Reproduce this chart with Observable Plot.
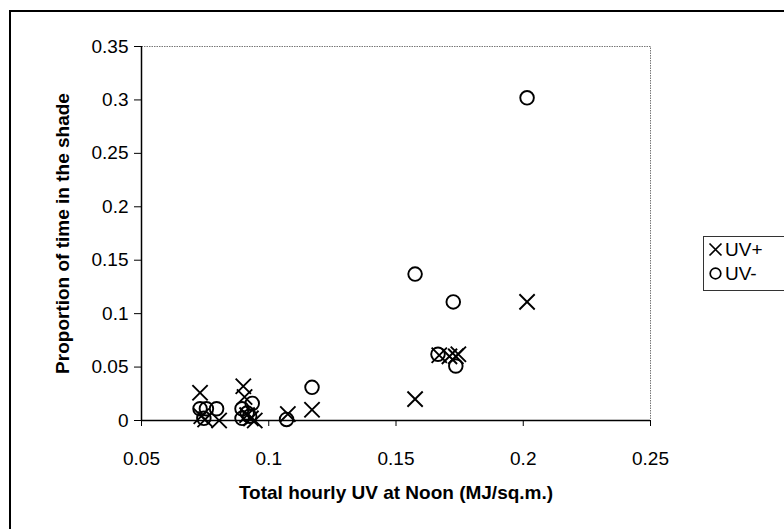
<!DOCTYPE html>
<html>
<head>
<meta charset="utf-8">
<script src="https://cdn.jsdelivr.net/npm/d3@7"></script>
<script src="https://cdn.jsdelivr.net/npm/@observablehq/plot@0.6"></script>
<style>
  html, body { margin: 0; padding: 0; background: #fff; }
  #wrap { position: relative; width: 784px; height: 529px; overflow: hidden; font-family: "Liberation Sans", Arial, sans-serif; }
  #outer { position: absolute; left: 9px; top: 10px; width: 900px; height: 700px; border-left: 2px solid #000; border-top: 2px solid #000; box-sizing: border-box; pointer-events: none; }
  #legend { position: absolute; left: 703px; top: 236px; width: 100px; height: 55px; border: 1px solid #333; box-sizing: border-box; background: #fff; }
  .row { position: absolute; left: 4px; display: flex; align-items: center; font-size: 19px; color: #000; line-height: 1; }
  .row svg { margin-right: 2px; }
</style>
</head>
<body>
<div id="wrap">
  <div id="chart"></div>
  <div id="outer"></div>
  <div id="legend">
    <div class="row" style="top:3px"><svg width="15" height="15" viewBox="-7.5 -7.5 15 15"><path d="M-6,-6L6,6M-6,6L6,-6" stroke="#000" stroke-width="1.7" fill="none"/></svg>UV+</div>
    <div class="row" style="top:27px"><svg width="15" height="15" viewBox="-7.5 -7.5 15 15"><circle r="5.3" stroke="#000" stroke-width="1.7" fill="none"/></svg>UV-</div>
  </div>
</div>
<script>
// Series: UV+ (crosses)
const uvPlusX = [0.073, 0.0735, 0.075, 0.0805, 0.090, 0.0905, 0.0915, 0.093, 0.0945, 0.1075, 0.117, 0.1575, 0.167, 0.171, 0.1735, 0.1745, 0.2015];
const uvPlusY = [0.026, 0.004, 0.001, 0.000, 0.032, 0.022, 0.005, 0.002, 0.000, 0.006, 0.010, 0.020, 0.061, 0.060, 0.060, 0.062, 0.111];
// Series: UV- (circles)
const uvMinusX = [0.073, 0.0755, 0.0795, 0.0745, 0.0895, 0.0915, 0.0935, 0.0895, 0.0925, 0.107, 0.117, 0.1575, 0.1665, 0.1725, 0.1735, 0.2015];
const uvMinusY = [0.011, 0.011, 0.011, 0.002, 0.011, 0.007, 0.016, 0.002, 0.004, 0.001, 0.031, 0.137, 0.062, 0.111, 0.051, 0.302];
// Axes
const xTicks = [0.05, 0.1, 0.15, 0.2, 0.25];
const yTicks = [0, 0.05, 0.1, 0.15, 0.2, 0.25, 0.3, 0.35];
const xTitle = "Total hourly UV at Noon (MJ/sq.m.)";
const yTitle = "Proportion of time in the shade";

const plusData = uvPlusX.map((x, i) => ({x, y: uvPlusY[i]}));
const minusData = uvMinusX.map((x, i) => ({x, y: uvMinusY[i]}));
const fmt = d => String(+d.toFixed(2));

const chart = Plot.plot({
  width: 784,
  height: 529,
  marginLeft: 141,
  marginRight: 134,
  marginTop: 46,
  marginBottom: 109,
  style: { fontFamily: "'Liberation Sans', Arial, sans-serif", background: "#fff", color: "#000" },
  x: { domain: [0.05, 0.25], label: null },
  y: { domain: [0, 0.35], label: null },
  marks: [
    Plot.frame({ stroke: "#777", strokeDasharray: "1.5,1" }),
    Plot.axisX({ ticks: xTicks, tickFormat: fmt, tickSize: 6, tickPadding: 25, fontSize: 19, label: null, stroke: "#000" }),
    Plot.axisY({ ticks: yTicks, tickFormat: fmt, tickSize: 7, tickPadding: 6, fontSize: 19, label: null, stroke: "#000" }),
    Plot.ruleY([0], { stroke: "#000", strokeWidth: 1.5 }),
    Plot.ruleX([0.05], { stroke: "#000", strokeWidth: 1.5 }),
    Plot.dot(minusData, { x: "x", y: "y", r: 6.8, stroke: "#000", strokeWidth: 1.9, fill: "none" }),
    Plot.dot(plusData, { x: "x", y: "y", symbol: "times", r: 7, stroke: "#000", strokeWidth: 1.9 }),
    Plot.text([xTitle], { frameAnchor: "bottom", dy: 78, fontSize: 19, fontWeight: "bold", fill: "#000" }),
    Plot.text([yTitle], { frameAnchor: "left", dx: -79, rotate: -90, textAnchor: "middle", fontSize: 19, fontWeight: "bold", fill: "#000" })
  ]
});
document.getElementById("chart").appendChild(chart);
</script>
</body>
</html>
